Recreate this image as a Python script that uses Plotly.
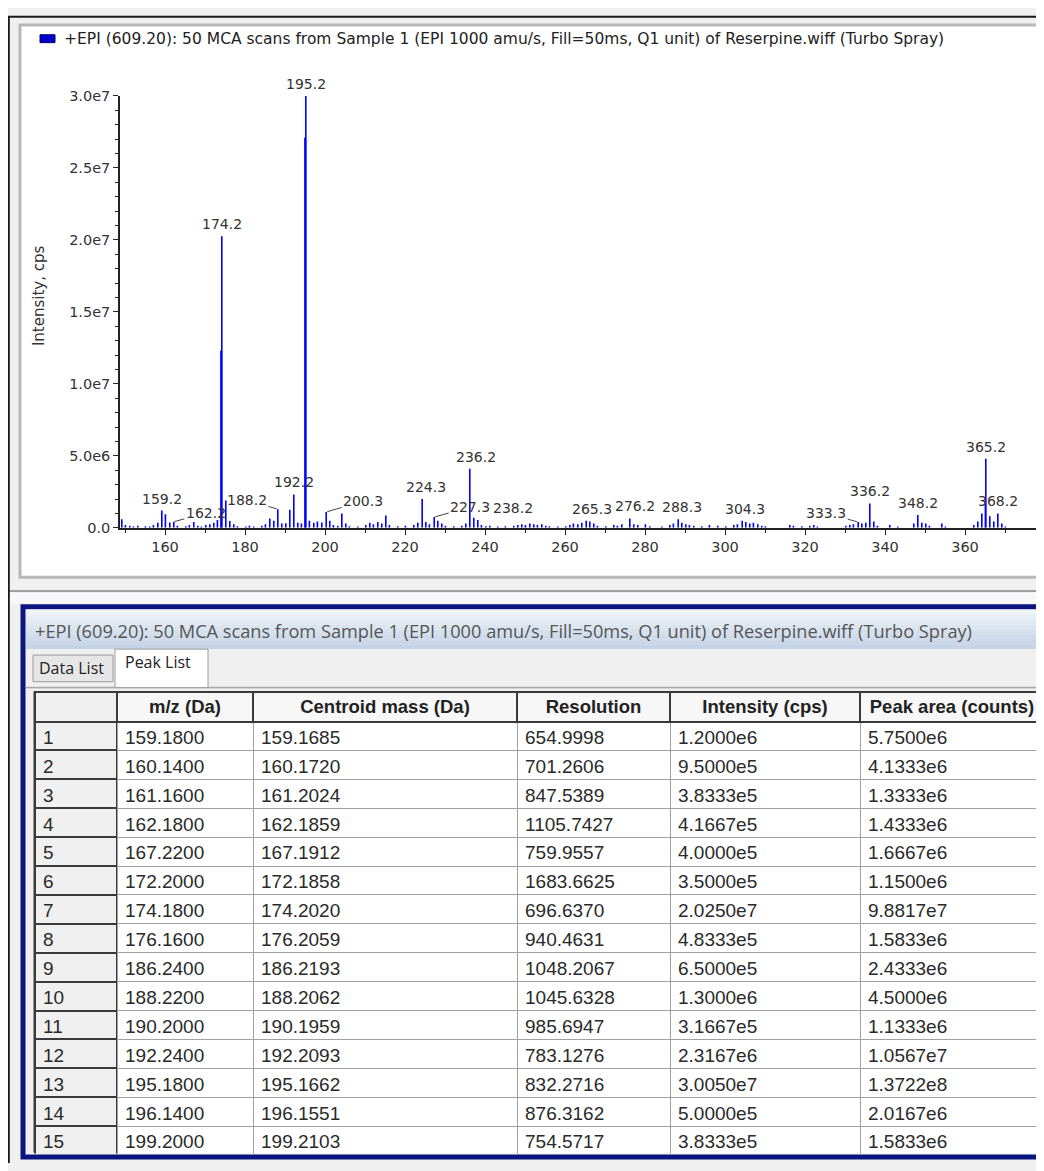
import plotly.graph_objects as go

# ---------------- data ----------------
title_text = "+EPI (609.20): 50 MCA scans from Sample 1 (EPI 1000 amu/s, Fill=50ms, Q1 unit) of Reserpine.wiff (Turbo Spray)"

# spectrum sticks: m/z (Da) and intensity (cps)
spec_mz = [149.2, 150.1, 151.2, 152.1, 153.2, 155.1, 156.2, 157.1, 158.2, 159.2,
           160.1, 161.2, 162.2, 163.1, 165.2, 166.1, 167.2, 168.2, 169.1, 170.2,
           171.2, 172.2, 173.1, 174.0, 174.1, 174.2, 175.2, 176.2, 177.2, 178.1,
           180.2, 181.1, 182.2, 184.2, 185.1, 186.2, 187.2, 188.2, 189.2, 190.2,
           191.2, 192.2, 193.2, 194.1, 195.0, 195.1, 195.2, 196.1, 197.2, 198.1,
           199.2, 200.3, 201.2, 202.1, 203.2, 204.2, 205.2, 206.1, 208.2, 210.2,
           211.2, 212.1, 213.2, 214.2, 215.2, 216.1, 218.2, 220.1, 222.2, 223.2,
           224.3, 225.2, 226.1, 227.3, 228.2, 229.2, 230.1, 232.2, 234.2, 235.2,
           236.2, 237.2, 238.2, 239.1, 240.2, 241.2, 243.2, 245.1, 247.2, 248.2,
           249.2, 250.1, 251.2, 252.2, 253.1, 254.2, 255.2, 256.1, 258.2, 260.2,
           261.2, 262.1, 263.2, 264.2, 265.3, 266.2, 267.2, 268.1, 270.2, 272.2,
           273.1, 274.2, 276.2, 277.2, 278.2, 280.1, 281.2, 284.2, 286.2, 287.1,
           288.3, 289.2, 290.2, 291.1, 292.2, 294.2, 296.1, 298.2, 300.2, 302.2,
           303.1, 304.3, 305.2, 306.2, 307.1, 308.2, 309.2, 310.1, 316.2, 317.1,
           319.2, 321.2, 322.2, 323.1, 330.2, 331.2, 332.1, 333.3, 334.2, 335.2,
           336.2, 337.2, 338.1, 341.2, 343.2, 347.2, 348.2, 349.2, 350.2, 351.1,
           354.2, 355.1, 362.2, 363.2, 364.2, 365.1, 365.2, 366.2, 367.2, 368.2,
           369.2, 370.1]
spec_int = [0.6e6, 0.2e6, 0.15e6, 0.1e6, 0.15e6, 0.12e6, 0.1e6, 0.2e6, 0.35e6, 1.2e6,
            0.95e6, 0.38e6, 0.42e6, 0.15e6, 0.12e6, 0.2e6, 0.4e6, 0.15e6, 0.1e6, 0.2e6,
            0.25e6, 0.35e6, 0.55e6, 12.3e6, 12.3e6, 20.25e6, 1.9e6, 0.48e6, 0.25e6, 0.12e6,
            0.1e6, 0.15e6, 0.1e6, 0.15e6, 0.25e6, 0.65e6, 0.5e6, 1.3e6, 0.3e6, 0.32e6,
            1.25e6, 2.32e6, 0.35e6, 0.3e6, 27.1e6, 27.1e6, 30.05e6, 0.5e6, 0.35e6, 0.45e6,
            0.38e6, 1.1e6, 0.5e6, 0.2e6, 0.15e6, 1.0e6, 0.3e6, 0.12e6, 0.1e6, 0.2e6,
            0.35e6, 0.25e6, 0.4e6, 0.3e6, 0.85e6, 0.2e6, 0.12e6, 0.15e6, 0.2e6, 0.35e6,
            2.0e6, 0.4e6, 0.25e6, 0.75e6, 0.5e6, 0.3e6, 0.15e6, 0.12e6, 0.15e6, 0.3e6,
            4.1e6, 0.7e6, 0.55e6, 0.2e6, 0.12e6, 0.15e6, 0.1e6, 0.12e6, 0.15e6, 0.2e6,
            0.25e6, 0.2e6, 0.3e6, 0.25e6, 0.2e6, 0.25e6, 0.15e6, 0.12e6, 0.1e6, 0.12e6,
            0.2e6, 0.3e6, 0.25e6, 0.35e6, 0.5e6, 0.45e6, 0.3e6, 0.15e6, 0.12e6, 0.2e6,
            0.15e6, 0.25e6, 0.65e6, 0.25e6, 0.2e6, 0.25e6, 0.12e6, 0.1e6, 0.2e6, 0.3e6,
            0.6e6, 0.35e6, 0.25e6, 0.2e6, 0.15e6, 0.12e6, 0.2e6, 0.15e6, 0.12e6, 0.2e6,
            0.25e6, 0.5e6, 0.4e6, 0.3e6, 0.35e6, 0.25e6, 0.15e6, 0.12e6, 0.2e6, 0.15e6,
            0.12e6, 0.15e6, 0.2e6, 0.1e6, 0.15e6, 0.2e6, 0.25e6, 0.4e6, 0.3e6, 0.35e6,
            1.7e6, 0.45e6, 0.15e6, 0.2e6, 0.1e6, 0.3e6, 0.9e6, 0.35e6, 0.3e6, 0.15e6,
            0.3e6, 0.1e6, 0.2e6, 0.45e6, 1.0e6, 1.8e6, 4.8e6, 0.8e6, 0.45e6, 1.0e6,
            0.3e6, 0.1e6]

# labelled peaks
label_mz = [159.2, 174.2, 192.2, 195.2, 224.3, 236.2, 238.2, 265.3, 276.2, 288.3,
            304.3, 336.2, 348.2, 365.2, 368.2]
label_int = [1.2e6, 20.25e6, 2.32e6, 30.05e6, 2.0e6, 4.1e6, 0.55e6, 0.5e6, 0.65e6, 0.6e6,
             0.5e6, 1.7e6, 0.9e6, 4.8e6, 1.0e6]
# labelled peaks drawn with a leader line
leader_mz = [162.2, 188.2, 200.3, 227.3, 333.3]
leader_int = [0.42e6, 1.3e6, 1.1e6, 0.75e6, 0.4e6]

x_ticks = [160, 180, 200, 220, 240, 260, 280, 300, 320, 340, 360]
y_tickvals = [0, 5e6, 1.0e7, 1.5e7, 2.0e7, 2.5e7, 3.0e7]
y_ticktext = ["0.0", "5.0e6", "1.0e7", "1.5e7", "2.0e7", "2.5e7", "3.0e7"]

# peak list table
tbl_index = list(range(1, 16))
tbl_mz = [159.18, 160.14, 161.16, 162.18, 167.22, 172.20, 174.18, 176.16, 186.24, 188.22,
          190.20, 192.24, 195.18, 196.14, 199.20]
tbl_centroid = [159.1685, 160.1720, 161.2024, 162.1859, 167.1912, 172.1858, 174.2020, 176.2059,
                186.2193, 188.2062, 190.1959, 192.2093, 195.1662, 196.1551, 199.2103]
tbl_resolution = [654.9998, 701.2606, 847.5389, 1105.7427, 759.9557, 1683.6625, 696.6370,
                  940.4631, 1048.2067, 1045.6328, 985.6947, 783.1276, 832.2716, 876.3162, 754.5717]
tbl_intensity = [1.2e6, 9.5e5, 3.8333e5, 4.1667e5, 4.0e5, 3.5e5, 2.025e7, 4.8333e5, 6.5e5, 1.3e6,
                 3.1667e5, 2.3167e6, 3.005e7, 5.0e5, 3.8333e5]
tbl_area = [5.75e6, 4.1333e6, 1.3333e6, 1.4333e6, 1.6667e6, 1.15e6, 9.8817e7, 1.5833e6, 2.4333e6,
            4.5e6, 1.1333e6, 1.0567e7, 1.3722e8, 2.0167e6, 1.5833e6]
tbl_headers = ["", "m/z (Da)", "Centroid mass (Da)", "Resolution", "Intensity (cps)", "Peak area (counts)"]

# ---------------- label placement (pixel offsets, layout only) ----------------
label_xshift = {224.3: 4, 236.2: 6, 238.2: 35, 265.3: 6, 276.2: 5, 288.3: 4, 304.3: 3}
leader_offsets = {162.2: (32, -9), 188.2: (-31, -9), 200.3: (37, -11), 227.3: (36, -10), 333.3: (-32, -9)}

# ---------------- helpers ----------------
# page has an 8px body margin; reference pixel coords are mapped onto the figure
W, H = 1036, 1163
OFF = 8


def PX(x):
    return (x - OFF) / W


def PY(y):
    return 1 - (y - OFF) / H


def sci(v):
    m, e = f"{v:.4e}".split("e")
    return f"{m}e{int(e)}"


FONT = "Liberation Sans, Arial, sans-serif"
CFONT = "DejaVu Sans, Verdana, sans-serif"
UIFONT = "Open Sans, sans-serif"

fig = go.Figure()

# spectrum sticks
xs, ys = [], []
for m, i in zip(spec_mz, spec_int):
    xs += [m, m, None]
    ys += [0, i, None]
fig.add_trace(go.Scatter(x=xs, y=ys, mode="lines", line=dict(color="#0000ff", width=1.6),
                         hoverinfo="skip", showlegend=False))

# table
fig.add_trace(go.Table(
    domain=dict(x=[PX(35), 1], y=[PY(1162), PY(693)]),
    columnwidth=[82, 136, 264, 153, 190, 184],
    header=dict(values=[h.replace(" ", "\u00a0") for h in tbl_headers],
                fill_color=["#f0f0f0", "#f7f7f7", "#f7f7f7", "#f7f7f7", "#f7f7f7", "#f7f7f7"],
                line=dict(color="#3a3a3a", width=2),
                align="center", height=30,
                font=dict(family=FONT, size=18.5, color="#222", weight="bold")),
    cells=dict(values=[[str(v) for v in tbl_index],
                       [f"{v:.4f}" for v in tbl_mz],
                       [f"{v:.4f}" for v in tbl_centroid],
                       [f"{v:.4f}" for v in tbl_resolution],
                       [sci(v) for v in tbl_intensity],
                       [sci(v) for v in tbl_area]],
               fill_color=["#f0f0f0", "white", "white", "white", "white", "white"],
               line=dict(color=["#3a3a3a", "#a0a0a0", "#a0a0a0", "#a0a0a0", "#a0a0a0", "#a0a0a0"],
                         width=[2, 1, 1, 1, 1, 1]),
               align="left", height=28.9,
               font=dict(family=FONT, size=19, color="#2a2a2a")),
))

# ---------------- decorative window frames ----------------
shapes = []


def rect(x0, y0, x1, y1, fill, line_color=None, lw=0, layer="below"):
    shapes.append(dict(type="rect", xref="paper", yref="paper",
                       x0=PX(x0), x1=PX(x1), y0=PY(y1), y1=PY(y0),
                       fillcolor=fill, layer=layer,
                       line=dict(color=line_color or fill, width=lw)))


def hline(x0, x1, y, color, lw):
    shapes.append(dict(type="line", xref="paper", yref="paper", x0=PX(x0), x1=PX(x1),
                       y0=PY(y), y1=PY(y), line=dict(color=color, width=lw), layer="below"))


def vline(x, y0, y1, color, lw):
    shapes.append(dict(type="line", xref="paper", yref="paper", x0=PX(x), x1=PX(x),
                       y0=PY(y0), y1=PY(y1), line=dict(color=color, width=lw), layer="below"))


# top spectrum panel
rect(20, 17, 1050, 577, "white", "#b8b8b8", 3)
# legend swatch
rect(40, 27, 55, 35, "#0000cc", "#000066", 1, layer="above")
# separator between panels
hline(8, 1044, 591, "#a0a0a0", 2)
rect(9, 593, 1044, 604, "#f8f8fb")
# bottom panel navy frame
rect(23, 607, 1060, 1165, "#f0f0f0", "#0b1580", 5)
# title bar gradient (stacked strips)
grad = ["#eef3f9", "#e7eef6", "#e1e9f3", "#dbe5f0", "#d5e0ed", "#cfdbea", "#cad7e8", "#c5d3e6"]
for k, c in enumerate(grad):
    rect(26, 610 + k * 5, 1044, 615 + k * 5, c)
# tab strip
rect(26, 650, 1044, 690, "#f0f0f0")
hline(26, 1044, 689, "#a8a8a8", 2)
rect(33, 656, 113, 683, "#e6e6e6", "#9a9a9a", 1)
rect(115, 650, 208, 689, "white", "#9a9a9a", 1)
rect(26, 690, 1044, 1162, "#f0f0f0")
# outer window border
hline(8, 1044, 8.8, "#1a1a1a", 2)
vline(8.8, 8, 1171, "#1a1a1a", 2)
vline(35, 693, 1160, "#3a3a3a", 3)

annotations = []
annotations.append(dict(xref="paper", yref="paper", x=PX(62), y=PY(31), xanchor="left",
                        yanchor="middle", showarrow=False, text=title_text,
                        font=dict(family=CFONT, size=15.5, color="#222")))
annotations.append(dict(xref="paper", yref="paper", x=PX(39), y=PY(292), xanchor="center",
                        yanchor="middle", showarrow=False, text="Intensity, cps", textangle=-90,
                        font=dict(family=CFONT, size=15, color="#333")))
annotations.append(dict(xref="paper", yref="paper", x=PX(33), y=PY(632), xanchor="left",
                        yanchor="middle", showarrow=False, text=title_text,
                        font=dict(family=UIFONT, size=18.2, color="#555")))
annotations.append(dict(xref="paper", yref="paper", x=PX(71), y=PY(669), xanchor="center",
                        yanchor="middle", showarrow=False, text="Data List",
                        font=dict(family=UIFONT, size=16, color="#222")))
annotations.append(dict(xref="paper", yref="paper", x=PX(158), y=PY(663), xanchor="center",
                        yanchor="middle", showarrow=False, text="Peak List",
                        font=dict(family=UIFONT, size=16, color="#222")))

for m, i in zip(label_mz, label_int):
    annotations.append(dict(x=m, y=min(i, 3.0e7), xref="x", yref="y", text=f"{m:.1f}",
                            showarrow=False, yanchor="bottom", yshift=2,
                            xshift=label_xshift.get(m, 0),
                            font=dict(family=CFONT, size=14, color="#333")))
for m, i in zip(leader_mz, leader_int):
    dx, dy = leader_offsets[m]
    annotations.append(dict(x=m, y=i, xref="x", yref="y", text=f"{m:.1f}",
                            showarrow=True, arrowhead=0, arrowwidth=1, arrowcolor="#444",
                            ax=dx, ay=dy, standoff=1,
                            font=dict(family=CFONT, size=14, color="#333")))

fig.update_layout(
    width=W, height=H, margin=dict(l=0, r=0, t=0, b=0),
    paper_bgcolor="#f0f0f0", plot_bgcolor="white",
    shapes=shapes, annotations=annotations, showlegend=False,
    xaxis=dict(domain=[PX(120), 1], range=[148.75, 379.75], tickvals=x_ticks,
               ticks="outside", ticklen=5, tickcolor="#222", showgrid=False, zeroline=False,
               showline=True, linecolor="#222", linewidth=1.5,
               minor=dict(dtick=10, tick0=150, ticks="outside", ticklen=3, tickcolor="#222"),
               tickfont=dict(family=CFONT, size=14.5, color="#333"), fixedrange=True),
    yaxis=dict(domain=[PY(527), PY(89)], range=[0, 3.0e7], tickvals=y_tickvals,
               ticktext=y_ticktext, ticks="outside", ticklen=5, tickcolor="#222",
               showgrid=False, zeroline=False, showline=True, linecolor="#222", linewidth=1.5,
               minor=dict(dtick=1e6, ticks="outside", ticklen=3, tickcolor="#222"),
               tickfont=dict(family=CFONT, size=14.5, color="#333"), fixedrange=True),
)

fig.write_html("out.html")
